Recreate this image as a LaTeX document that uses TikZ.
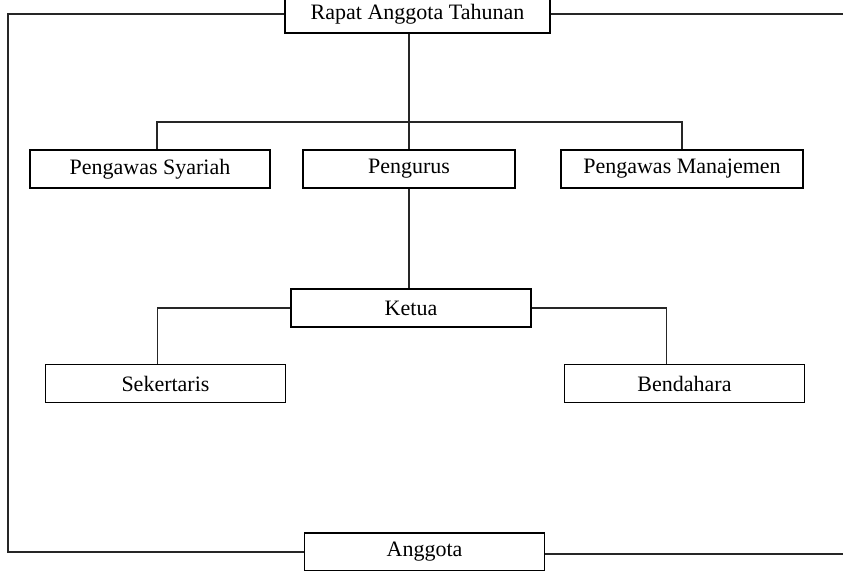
\documentclass[tikz,border=0pt]{standalone}
\usepackage{fontspec}
\setmainfont{Liberation Serif}
\usepackage{tikz}
\usetikzlibrary{positioning,calc}

\begin{document}
\begin{tikzpicture}[x=0.5pt, y=-0.5pt,
    unit/.style={draw, line width=0.7pt, fill=white, minimum height=19pt,
      inner sep=0pt, font=\fontsize{11}{13}\selectfont},
    link/.style={line width=0.7pt, black!85}]
  \useasboundingbox (0,0) rectangle (843,570);
  % boxes
  \node[unit, minimum width=132.5pt] (rat) at (417.5,14) {Rapat Anggota Tahunan};
  \node[unit, minimum width=120pt] (syariah) at (150,169) {Pengawas Syariah};
  \node[unit, minimum width=106pt] (pengurus) at (409,169) {Pengurus};
  \node[unit, minimum width=121pt] (manajemen) at (682,169) {Pengawas Manajemen};
  \node[unit, minimum width=120pt] (ketua) at (411,308) {Ketua};
  \node[unit, minimum width=120pt] (sekertaris) at (165.5,383.5) {Sekertaris};
  \node[unit, minimum width=120pt] (bendahara) at (684.5,383.5) {Bendahara};
  \node[unit, minimum width=120pt] (anggota) at (424.5,552) {Anggota};
  % connectors
  \coordinate (bar) at (409,122);
  \coordinate (sideL) at (8,552);
  \coordinate (edgeT) at (845,14);
  \coordinate (edgeB) at (845,554);
  \draw[link] (rat.south -| pengurus.north) -- (pengurus.north);
  \draw[link] ([xshift=3.5pt]syariah.north) |- (bar) -| (manajemen.north);
  \draw[link] (pengurus.south) -- (pengurus.south |- ketua.north);
  \draw[link] (ketua.west) -| ([xshift=-4pt]sekertaris.north);
  \draw[link] (ketua.east) -| ([xshift=-9pt]bendahara.north);
  \draw[link] (rat.west) -| (sideL) -- (anggota.west);
  \draw[link] (rat.east) -- (edgeT);
  \draw[link, line width=1pt] (anggota.east |- edgeB) -- (edgeB);
\end{tikzpicture}
\end{document}
